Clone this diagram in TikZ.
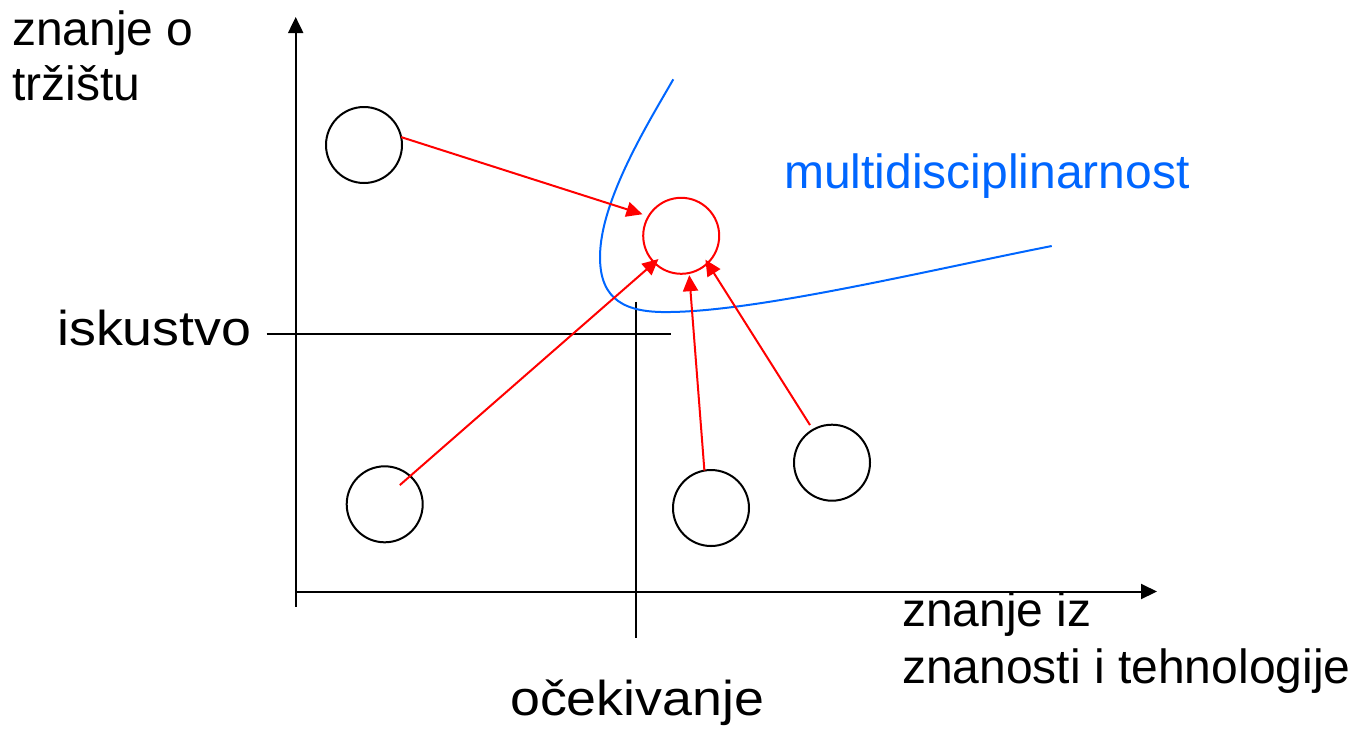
\documentclass[tikz,border=0pt]{standalone}
\usepackage{fontspec}
\setmainfont{Liberation Sans}
\usetikzlibrary{arrows.meta}
\definecolor{myblue}{RGB}{0,102,255}
\tikzset{
  lbl/.style={anchor=base west, inner sep=0pt, font=\fontsize{48}{57}\selectfont},
  ring/.style={circle, draw=black, line width=2pt, minimum size=76pt, inner sep=0pt, outer sep=0pt},
  redring/.style={ring, draw=red},
  axis/.style={line width=2pt, -{Triangle[length=16pt,width=15pt]}},
  guide/.style={line width=2pt},
  redarrow/.style={draw=red, line width=2pt, -{Triangle[length=16pt,width=15pt]}},
}
\begin{document}
\begin{tikzpicture}[x=1pt,y=-1pt]
\useasboundingbox (0,0) rectangle (1354,732);
% axes
\coordinate (ybot) at (295.7,606.5);
\coordinate (ytop) at (295.7,17);
\coordinate (xl) at (295.7,591.5);
\coordinate (xr) at (1157,591.5);
\draw[axis] (ybot) -- (ytop);
\draw[axis] (xl) -- (xr);
% guide lines
\coordinate (vt) at (635.7,301.5);
\coordinate (vb) at (635.7,637.5);
\coordinate (hl) at (266.7,334.3);
\coordinate (hr) at (671,334.3);
\draw[guide] (vt) -- (vb);
\draw[guide] (hl) -- (hr);
% blue curve
\draw[myblue, line width=2pt] (673.3,79.3) .. controls (650,120) and (600,200) .. (600,257)
  .. controls (600,300) and (625,313) .. (670,312)
  .. controls (760,311) and (930,270) .. (1051.7,246);
% circles
\node[ring] (tl) at (364,145) {};
\node[redring] (rc) at (681.2,235.8) {};
\node[ring] (bl) at (384.7,504.3) {};
\node[ring] (bm) at (711,508) {};
\node[ring] (rt) at (832,462.7) {};
% arrows
\draw[redarrow, shorten >=6.5pt] (tl.12.3) -- (rc.149.3);
\draw[redarrow, shorten <=-13.7pt, shorten >=-5.5pt] (bl.48.8) -- (rc.225.7);
\draw[redarrow, shorten >=2.2pt] (bm.100.7) -- (rc.282.7);
\draw[redarrow, shorten <=5.6pt, shorten >=-4.1pt] (rt.120.3) -- (rc.314.5);
% labels
\node[lbl] (ly1) at (12,45) {znanje o};
\node[lbl] (ly2) at (12,100) {tržištu};
\node[lbl] (lisk) at (57,345) {\scalebox{1.12}[1.02]{iskustvo}};
\node[lbl, text=myblue] (lmul) at (784,188.3) {multidisciplinarnost};
\node[lbl] (lx1) at (902,626) {znanje iz};
\node[lbl] (lx2) at (902,683) {znanosti i tehnologije};
\node[lbl] (locek) at (510,715) {\scalebox{1.12}[1.02]{očekivanje}};
\end{tikzpicture}
\end{document}
